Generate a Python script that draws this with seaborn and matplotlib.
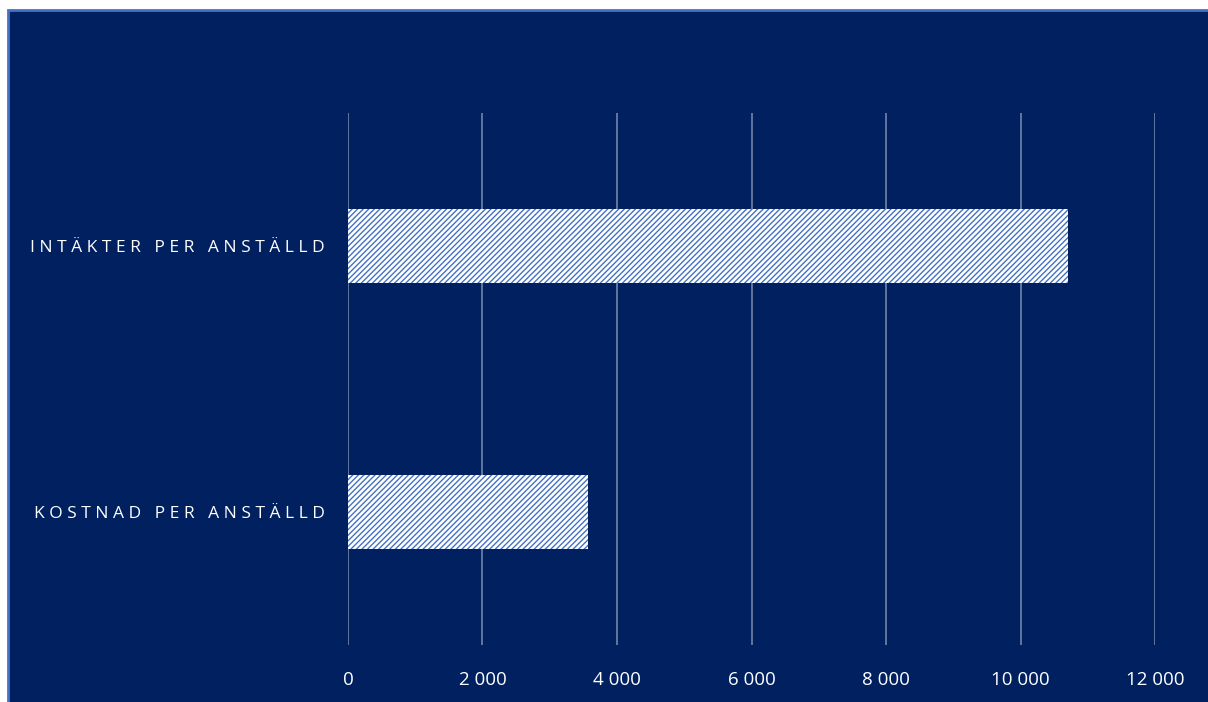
import matplotlib
matplotlib.use("Agg")
import matplotlib.pyplot as plt
import seaborn as sns
import pandas as pd
from matplotlib.patches import Rectangle
from matplotlib.ticker import FuncFormatter

categories = ["INTÄKTER PER ANSTÄLLD", "KOSTNAD PER ANSTÄLLD"]
values = [10700, 3570]
xticks = [0, 2000, 4000, 6000, 8000, 10000, 12000]

NAVY = "#002060"
sns.set_theme(style="white")
plt.rcParams['font.family'] = ['Open Sans', 'DejaVu Sans']
plt.rcParams['hatch.linewidth'] = 1.0
plt.rcParams['hatch.color'] = '#4472C4'

fig = plt.figure(figsize=(12.08, 7.02), dpi=100, facecolor="white")
bg = Rectangle((8 / 1208, -0.02), 1.05, 1 - 10 / 702 + 0.02, transform=fig.transFigure,
               facecolor=NAVY, edgecolor="#4472C4", linewidth=2, zorder=-10)
fig.patches.append(bg)

ax = fig.add_axes([348 / 1208, 1 - 645 / 702, (1155 - 348) / 1208, (645 - 113) / 702])
ax.set_zorder(5)
ax.set_facecolor("none")
ax.patch.set_alpha(0)

df = pd.DataFrame({"cat": categories, "val": values})
sns.barplot(data=df, x="val", y="cat", orient="h", color="white", width=0.275, ax=ax,
            saturation=1, zorder=3)
for p in ax.patches:
    p.set_facecolor("white")
    p.set_edgecolor("#4472C4")
    p.set_hatch("//////")
    p.set_linewidth(0)

ax.set_xlim(0, 12000)
ax.set_ylim(1.5, -0.5)
ax.set_xticks(xticks)
ax.xaxis.set_major_formatter(FuncFormatter(lambda v, _: f"{int(v):,}".replace(",", " ")))
ax.grid(axis="x", color="#7484AA", linewidth=1.2, zorder=0)
ax.set_axisbelow(True)
for s in ax.spines.values():
    s.set_visible(False)
ax.set_xlabel("")
ax.set_ylabel("")
ax.tick_params(axis="x", length=0, pad=19, labelsize=13.5, labelcolor="white")
ax.tick_params(axis="y", length=0, pad=17, labelsize=12.5, labelcolor="white")
ax.set_yticks([0, 1])
ax.set_yticklabels([" ".join(list(c)) for c in categories])

fig.savefig("out.png", dpi=100, facecolor="white")
